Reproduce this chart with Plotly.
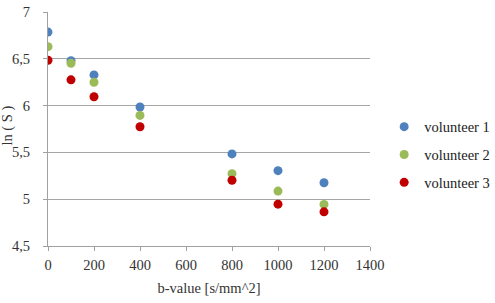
import plotly.graph_objects as go

b_values = [0, 100, 200, 400, 800, 1000, 1200]
volunteer1 = [6.785, 6.48, 6.328, 5.985, 5.484, 5.305, 5.176]
volunteer2 = [6.63, 6.453, 6.249, 5.895, 5.273, 5.087, 4.944]
volunteer3 = [6.485, 6.275, 6.095, 5.774, 5.202, 4.947, 4.865]
names = ["volunteer 1", "volunteer 2", "volunteer 3"]
colors = ["#4F81BD", "#9BBB59", "#C00000"]

fig = go.Figure()
for i, (name, ys, c) in enumerate(zip(names, [volunteer1, volunteer2, volunteer3], colors)):
    fig.add_trace(go.Scatter(x=b_values, y=ys, mode="markers", name=name,
                             legendgroup=name,
                             marker=dict(color=c, size=9)))

font = "Liberation Serif"
fs = 14.5
fig.update_layout(
    width=495, height=303,
    margin=dict(l=48, r=125, t=12, b=57, autoexpand=False),
    paper_bgcolor="white", plot_bgcolor="white",
    separators=",.",
    font=dict(family=font, size=fs, color="#333333"),
    showlegend=True,
    legend=dict(x=1.044, y=0.39, xanchor="left", yanchor="middle",
                font=dict(family=font, size=fs, color="#222222"),
                tracegroupgap=6, itemwidth=30, bgcolor="rgba(0,0,0,0)"),
    xaxis=dict(range=[0, 1400], dtick=200, tick0=0, showgrid=False,
               showline=True, linecolor="#A0A0A0", linewidth=1,
               ticks="outside", ticklen=4, tickcolor="#A0A0A0",
               ticklabelstandoff=2,
               zeroline=False,
               title=dict(text="b-value [s/mm^2]", font=dict(family=font, size=fs), standoff=10),
               tickfont=dict(family=font, size=fs, color="#333333")),
    yaxis=dict(range=[4.5, 7], dtick=0.5, tick0=4.5, showgrid=True,
               gridcolor="#A6A6A6", gridwidth=1,
               showline=True, linecolor="#A0A0A0", linewidth=1,
               ticks="outside", ticklen=4, tickcolor="#A0A0A0",
               ticklabelstandoff=10,
               zeroline=False,
               tickfont=dict(family=font, size=fs, color="#333333")),
    annotations=[dict(text="ln ( S )", xref="paper", yref="paper",
                      x=-0.127, y=0.515, xanchor="center", yanchor="middle",
                      textangle=-90, showarrow=False,
                      font=dict(family=font, size=fs, color="#333333"))],
)

fig.write_html("out.html")
